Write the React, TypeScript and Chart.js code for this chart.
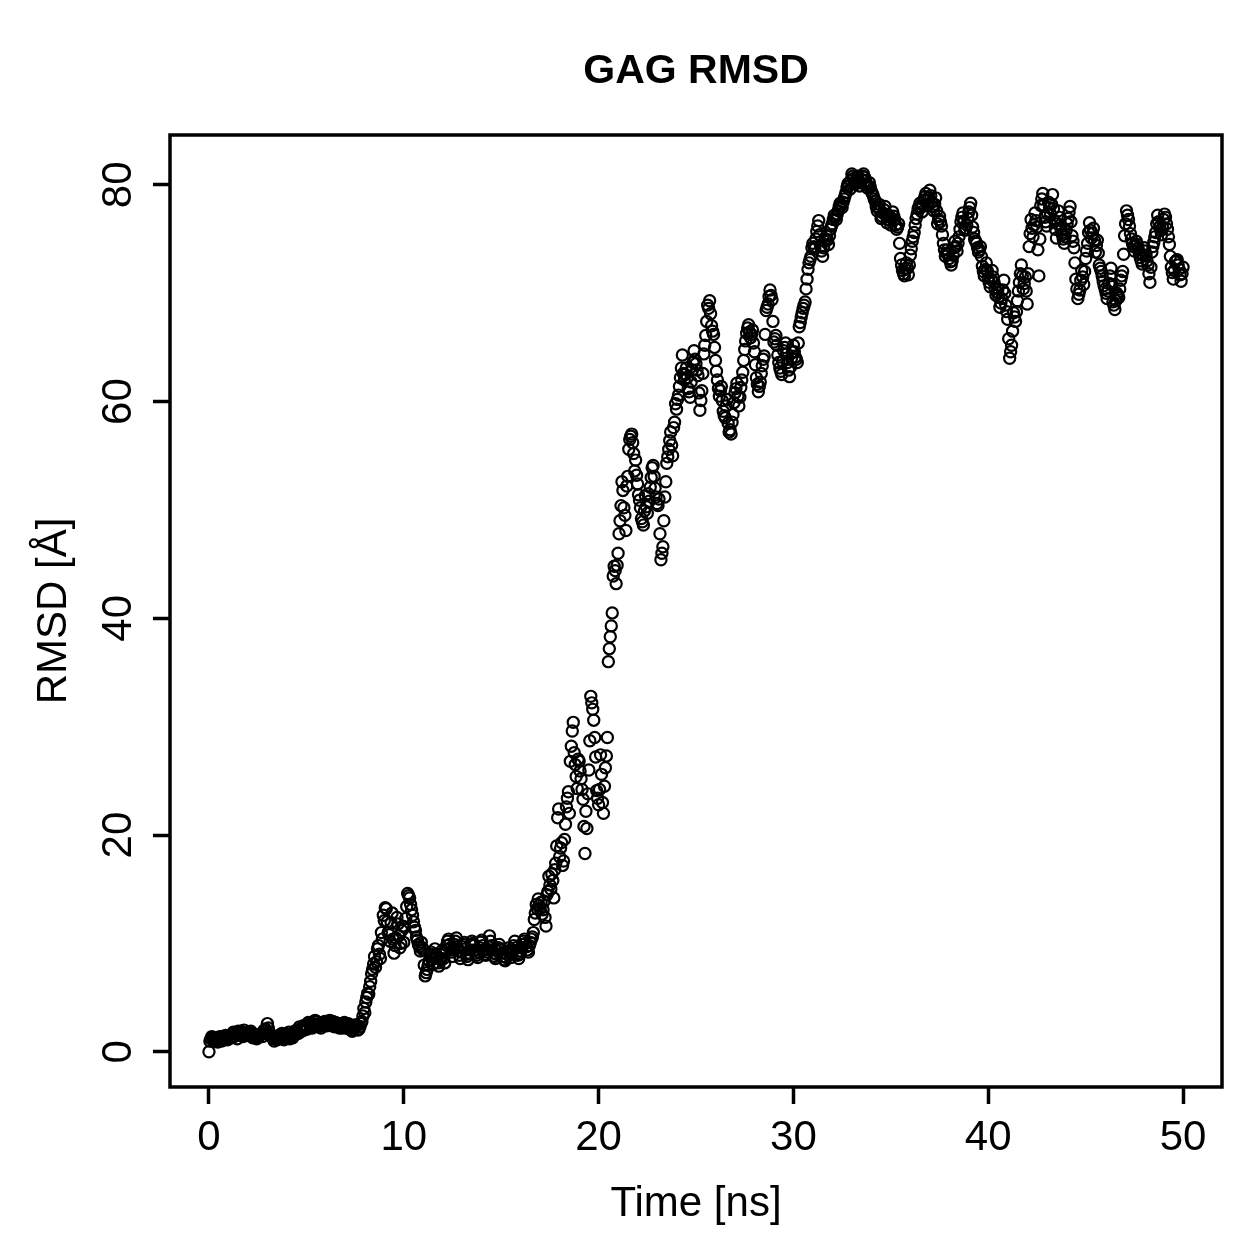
import { useEffect, useRef } from "react";
import { Chart, registerables } from "chart.js";

Chart.register(...registerables);

const TITLE = "GAG RMSD";
const X_LABEL = "Time [ns]";
const Y_LABEL = "RMSD [Å]";
const X_TICKS = [0, 10, 20, 30, 40, 50];
const Y_TICKS = [0, 20, 40, 60, 80];
const X_RANGE = [-2, 52];
const Y_RANGE = [-3.25, 84.6];

// Frames are saved every 0.05 ns; the two arrays hold alternate frames,
// one row per nanosecond.
const FRAME_STEP_NS = 0.1;

// frames at 0.0, 0.1, 0.2, ... ns
const rmsdEven = [
  0.0, 1.2, 1.3, 1.0, 1.1, 1.3, 1.2, 1.4, 1.1, 1.3,
  1.2, 1.5, 1.6, 1.4, 1.7, 1.9, 1.5, 1.8, 2.0, 1.6,
  1.8, 1.5, 1.7, 1.4, 1.6, 1.3, 1.5, 1.7, 1.9, 2.1,
  2.6, 1.8, 1.4, 1.2, 1.3, 1.1, 1.5, 1.6, 1.3, 1.2,
  1.4, 1.8, 1.6, 1.3, 1.9, 2.0, 1.7, 2.1, 2.2, 2.0,
  2.4, 2.7, 2.5, 2.2, 2.6, 2.8, 2.3, 2.4, 2.7, 2.5,
  2.6, 2.8, 2.9, 2.4, 2.5, 2.7, 2.3, 2.2, 2.6, 2.4,
  2.5, 2.3, 2.1, 2.2, 2.0, 2.3, 2.4, 2.1, 2.6, 3.3,
  3.6, 5.0, 5.3, 6.5, 7.6, 8.8, 8.3, 9.8, 8.6, 10.4,
  12.1, 13.2, 11.0, 10.2, 12.8, 9.1, 10.5, 11.8, 9.6, 11.2,
  10.1, 12.3, 14.6, 14.2, 13.1, 12.0, 11.2, 10.3, 9.7, 10.1,
  9.4, 7.0, 7.6, 8.4, 9.2, 8.1, 9.5, 8.8, 7.9, 8.5,
  9.1, 8.2, 9.8, 10.4, 9.6, 8.8, 9.9, 10.5, 9.3, 8.6,
  9.7, 10.1, 9.0, 8.5, 9.4, 10.2, 9.8, 9.1, 8.7, 9.6,
  10.3, 9.4, 8.9, 9.2, 10.7, 9.8, 9.1, 8.6, 9.3, 9.9,
  9.5, 8.8, 8.4, 9.0, 9.6, 8.7, 9.4, 10.2, 9.1, 8.6,
  9.3, 9.9, 10.4, 9.7, 9.2, 10.1, 10.6, 12.2, 13.6, 14.1,
  13.2, 12.7, 13.9, 11.6, 14.8, 15.4, 16.4, 14.2, 17.4, 21.6,
  18.0, 19.3, 17.6, 21.0, 23.4, 22.0, 28.2, 30.4, 26.5, 24.3,
  26.8, 25.2, 23.3, 18.3, 20.6, 26.0, 32.8, 31.6, 29.0, 24.1,
  22.8, 27.4, 23.0, 24.5, 27.3, 36.0, 38.3, 40.5, 44.8, 43.2,
  46.0, 49.0, 52.6, 50.2, 48.1, 53.1, 56.5, 57.0, 55.2, 54.6,
  52.4, 50.9, 49.2, 48.6, 51.3, 49.7, 50.8, 53.0, 54.1, 52.0,
  50.6, 51.0, 45.4, 46.6, 51.2, 54.3, 55.6, 57.2, 55.0, 58.1,
  59.3, 60.6, 62.2, 64.3, 62.0, 63.1, 61.2, 60.4, 62.9, 64.7,
  63.5, 62.4, 59.2, 61.0, 64.4, 66.1, 68.9, 69.3, 67.0, 66.2,
  63.8, 62.0, 60.5, 61.4, 59.1, 58.5, 60.2, 57.2, 57.0, 58.8,
  60.8, 61.7, 59.6, 61.3, 62.7, 64.8, 66.3, 67.1, 65.9, 66.6,
  64.6, 62.2, 60.9, 61.8, 63.3, 64.2, 68.4, 69.0, 70.3, 69.4,
  65.5, 66.1, 64.3, 63.1, 62.5, 64.7, 65.4, 63.6, 62.3, 64.0,
  65.2, 64.1, 63.6, 66.9, 67.8, 68.6, 69.2, 71.3, 72.8, 73.4,
  74.6, 74.1, 75.7, 76.7, 74.3, 73.4, 74.8, 75.3, 74.5, 75.9,
  76.4, 77.2, 76.8, 77.6, 78.3, 77.9, 78.7, 79.3, 80.1, 79.6,
  81.0, 80.6, 80.1, 80.8, 79.9, 80.5, 81.0, 80.4, 79.7, 80.2,
  79.4, 79.0, 78.5, 77.6, 78.2, 76.9, 77.4, 78.0, 76.5, 77.2,
  76.3, 77.5, 76.8, 75.9, 76.4, 73.2, 72.1, 71.6, 72.8, 71.7,
  73.5, 74.8, 75.6, 76.9, 77.8, 78.3, 77.5, 78.6, 79.2, 78.1,
  79.5, 78.4, 77.6, 78.8, 76.4, 77.1, 76.2, 74.6, 73.4, 74.0,
  73.2, 72.6, 73.5, 74.8, 73.9, 75.2, 76.6, 77.4, 75.8, 76.3,
  77.5, 78.3, 76.1, 75.0, 74.6, 73.8, 74.3, 72.5, 71.6, 72.8,
  71.4, 70.6, 72.1, 71.0, 69.8, 70.4, 68.7, 69.5, 71.2, 68.9,
  67.6, 64.0, 65.2, 68.2, 67.4, 69.3, 71.0, 72.6, 70.4, 71.5,
  69.0, 74.3, 76.8, 75.2, 77.4, 76.1, 71.6, 78.1, 79.2, 77.0,
  76.2, 78.4, 77.3, 79.1, 76.7, 75.1, 77.6, 76.3, 75.4, 74.6,
  75.8, 76.9, 78.0, 75.3, 74.2, 71.3, 69.5, 70.3, 72.1, 70.8,
  73.2, 74.6, 76.5, 75.1, 76.0, 73.8, 74.9, 72.6, 72.0, 71.1,
  70.4, 69.5, 70.9, 72.3, 69.2, 68.5, 70.0, 69.6, 71.2, 72.0,
  75.3, 77.6, 76.8, 75.5, 74.6, 73.9, 74.8, 74.1, 73.3, 72.7,
  74.2, 73.5, 72.6, 71.0, 73.8, 74.7, 75.6, 77.2, 76.1, 75.4,
  76.8, 77.0, 75.9, 74.5, 72.4, 71.3, 72.9, 73.1, 72.2, 71.1,
  72.4,
];

// frames at 0.05, 0.15, 0.25, ... ns
const rmsdOdd = [
  1.0, 1.4, 1.1, 1.2, 0.9, 1.4, 1.0, 1.2, 1.5, 1.1,
  1.4, 1.3, 1.8, 1.5, 1.2, 1.6, 1.9, 1.4, 1.7, 1.5,
  1.6, 1.9, 1.3, 1.6, 1.2, 1.4, 1.6, 1.4, 2.0, 1.7,
  2.2, 1.5, 1.3, 1.0, 1.4, 1.2, 1.3, 1.7, 1.1, 1.4,
  1.6, 1.2, 1.5, 1.7, 1.6, 1.8, 2.3, 1.9, 2.4, 2.3,
  2.1, 2.6, 2.3, 2.5, 2.9, 2.4, 2.6, 2.2, 2.5, 2.8,
  2.4, 2.6, 2.5, 2.8, 2.3, 2.5, 2.6, 2.4, 2.2, 2.7,
  2.2, 2.6, 2.4, 1.9, 2.2, 2.5, 2.0, 2.3, 2.8, 4.0,
  4.6, 5.4, 6.0, 7.2, 8.1, 7.8, 9.5, 9.0, 11.0, 12.6,
  13.3, 12.0, 10.8, 11.9, 10.4, 9.8, 12.4, 10.7, 10.0, 11.6,
  11.5, 13.4, 14.4, 13.6, 12.6, 11.5, 10.6, 9.9, 9.3, 9.6,
  8.0, 7.3, 8.0, 9.0, 8.5, 8.7, 9.0, 8.2, 8.6, 9.3,
  8.6, 9.2, 10.2, 9.9, 9.2, 9.4, 10.2, 9.7, 8.9, 9.2,
  9.9, 9.5, 8.8, 9.1, 9.9, 10.0, 9.4, 8.9, 9.2, 10.1,
  9.8, 9.0, 9.5, 9.7, 10.2, 9.4, 8.8, 9.0, 9.6, 9.4,
  9.1, 8.5, 8.7, 9.3, 9.2, 9.0, 9.8, 9.6, 8.9, 9.0,
  9.6, 10.2, 10.0, 9.4, 9.8, 10.4, 11.0, 12.8, 13.2, 13.5,
  13.8, 13.1, 12.4, 14.5, 16.2, 15.0, 15.8, 16.8, 19.0, 22.4,
  18.8, 17.2, 19.6, 22.6, 24.0, 26.8, 29.6, 27.6, 25.4, 27.0,
  25.9, 24.2, 20.8, 22.2, 23.8, 28.7, 32.2, 30.6, 27.2, 23.4,
  24.2, 25.6, 22.0, 26.2, 29.0, 37.2, 39.3, 43.9, 44.4, 44.9,
  47.8, 50.4, 51.8, 49.5, 52.2, 55.6, 56.8, 56.2, 53.6, 53.2,
  51.4, 50.2, 48.9, 49.9, 50.3, 51.5, 52.1, 53.9, 53.1, 51.2,
  50.4, 47.8, 46.0, 49.0, 52.6, 54.9, 56.4, 56.0, 57.6, 59.8,
  60.2, 61.4, 63.1, 62.6, 62.5, 62.2, 60.9, 61.8, 63.6, 63.9,
  62.9, 60.8, 60.1, 62.6, 65.2, 67.4, 68.6, 68.1, 66.5, 65.0,
  62.8, 61.2, 61.0, 60.1, 58.7, 59.6, 58.0, 57.4, 58.1, 59.9,
  61.2, 60.5, 60.4, 62.0, 63.8, 65.6, 66.8, 66.4, 66.2, 65.4,
  63.4, 61.6, 61.4, 62.6, 63.9, 66.2, 68.7, 69.7, 69.8, 67.4,
  65.8, 65.2, 63.6, 62.8, 63.7, 65.0, 64.4, 62.9, 63.2, 64.6,
  64.6, 63.9, 65.4, 67.3, 68.2, 68.9, 70.4, 72.2, 73.1, 74.2,
  74.3, 75.0, 76.2, 75.4, 73.9, 74.2, 75.0, 74.9, 75.3, 76.2,
  76.8, 77.0, 77.3, 78.0, 78.1, 78.4, 79.0, 79.8, 79.9, 80.4,
  80.8, 80.3, 80.5, 80.4, 80.2, 80.8, 80.7, 80.0, 79.9, 79.8,
  79.2, 78.7, 78.0, 77.9, 77.6, 77.1, 77.7, 77.2, 76.8, 76.7,
  76.9, 77.1, 76.3, 76.1, 74.6, 72.6, 71.8, 72.2, 72.3, 72.6,
  74.1, 75.2, 76.3, 77.3, 78.0, 77.9, 78.1, 78.9, 78.6, 78.8,
  79.0, 78.0, 78.2, 77.6, 76.8, 76.6, 75.4, 74.0, 73.7, 73.6,
  72.9, 73.0, 74.2, 74.3, 74.6, 75.9, 77.0, 76.6, 76.0, 76.9,
  77.9, 77.2, 75.6, 74.8, 74.2, 74.0, 73.4, 72.0, 72.2, 72.1,
  71.0, 71.3, 71.5, 70.4, 70.1, 69.6, 69.1, 70.3, 70.0, 68.3,
  65.8, 64.6, 66.5, 67.8, 68.3, 70.2, 71.8, 71.6, 70.9, 70.2,
  71.8, 75.5, 76.0, 76.3, 76.7, 74.0, 75.0, 78.7, 78.1, 76.6,
  77.3, 77.9, 78.2, 77.8, 75.9, 76.4, 77.0, 75.8, 75.0, 75.2,
  76.4, 77.5, 76.6, 74.8, 72.8, 70.4, 69.9, 71.2, 71.5, 72.0,
  73.9, 75.6, 75.8, 75.5, 74.9, 74.4, 73.7, 72.3, 71.6, 70.7,
  70.0, 70.2, 71.6, 70.8, 68.9, 69.3, 69.8, 70.4, 71.6, 73.6,
  76.4, 77.2, 76.2, 75.0, 74.3, 74.4, 74.5, 73.7, 73.0, 73.5,
  73.9, 73.0, 71.8, 72.4, 74.3, 75.2, 76.4, 76.6, 75.8, 76.1,
  77.3, 76.4, 75.2, 73.4, 71.9, 72.1, 73.0, 72.6, 71.7, 71.8,
];

const FONT = '"Liberation Sans", Arial, Helvetica, sans-serif';
const SIZE = 1259;

const frame = {
  id: "rFrame",
  afterDraw(chart: any) {
    const { ctx, chartArea: a, scales } = chart;
    const xs = scales.x;
    const ys = scales.y;
    ctx.save();
    ctx.strokeStyle = "#000";
    ctx.lineWidth = 3.5;
    ctx.strokeRect(a.left, a.top, a.right - a.left, a.bottom - a.top);

    ctx.fillStyle = "#000";
    ctx.font = `bold 41px ${FONT}`;
    ctx.textAlign = "center";
    ctx.textBaseline = "alphabetic";
    ctx.fillText(TITLE, (a.left + a.right) / 2, 83);

    ctx.font = `42px ${FONT}`;
    X_TICKS.forEach((v) => {
      ctx.fillText(String(v), xs.getPixelForValue(v), 1150);
    });
    ctx.fillText(X_LABEL, (a.left + a.right) / 2, 1216);

    Y_TICKS.forEach((v) => {
      ctx.save();
      ctx.translate(131, ys.getPixelForValue(v));
      ctx.rotate(-Math.PI / 2);
      ctx.fillText(String(v), 0, 0);
      ctx.restore();
    });

    ctx.save();
    ctx.translate(66, (a.top + a.bottom) / 2);
    ctx.rotate(-Math.PI / 2);
    ctx.fillText(Y_LABEL, 0, 0);
    ctx.restore();
    ctx.restore();
  },
};

export default function App() {
  const canvasRef = useRef<HTMLCanvasElement | null>(null);

  useEffect(() => {
    const canvas = canvasRef.current;
    if (!canvas) return;
    const points: { x: number; y: number }[] = [];
    rmsdEven.forEach((v, i) => {
      points.push({ x: +(i * FRAME_STEP_NS).toFixed(2), y: v });
      if (i < rmsdOdd.length) {
        points.push({ x: +(i * FRAME_STEP_NS + FRAME_STEP_NS / 2).toFixed(2), y: rmsdOdd[i] });
      }
    });
    const tickGrid = {
      display: true,
      drawOnChartArea: false,
      drawTicks: true,
      tickLength: 17,
      tickWidth: 3.5,
      tickColor: "#000",
    };
    const chart = new Chart(canvas, {
      type: "scatter",
      data: {
        datasets: [
          {
            data: points,
            pointStyle: "circle",
            pointRadius: 5.6,
            pointBorderWidth: 2.2,
            pointBorderColor: "#000",
            pointBackgroundColor: "rgba(0,0,0,0)",
            showLine: false,
          },
        ],
      },
      options: {
        responsive: false,
        animation: false,
        elements: { point: { radius: 5.6, borderWidth: 2.2 } },
        layout: { padding: { left: 0, right: SIZE - 1222, top: 135, bottom: 0 } },
        plugins: { legend: { display: false }, tooltip: { enabled: false }, title: { display: false } },
        scales: {
          x: {
            type: "linear",
            min: X_RANGE[0],
            max: X_RANGE[1],
            afterBuildTicks: (s: any) => {
              s.ticks = X_TICKS.map((v) => ({ value: v }));
            },
            afterFit: (s: any) => {
              s.height = SIZE - 1087;
            },
            ticks: { display: false },
            grid: tickGrid,
            border: { display: false },
          },
          y: {
            type: "linear",
            min: Y_RANGE[0],
            max: Y_RANGE[1],
            afterBuildTicks: (s: any) => {
              s.ticks = Y_TICKS.map((v) => ({ value: v }));
            },
            afterFit: (s: any) => {
              s.width = 170;
            },
            ticks: { display: false },
            grid: tickGrid,
            border: { display: false },
          },
        },
      },
      plugins: [frame],
    } as any);
    return () => chart.destroy();
  }, []);

  return (
    <div style={{ position: "fixed", left: 0, top: 0, width: SIZE, height: SIZE, background: "#fff" }}>
      <canvas ref={canvasRef} width={SIZE} height={SIZE} style={{ width: SIZE, height: SIZE, display: "block" }} />
    </div>
  );
}
